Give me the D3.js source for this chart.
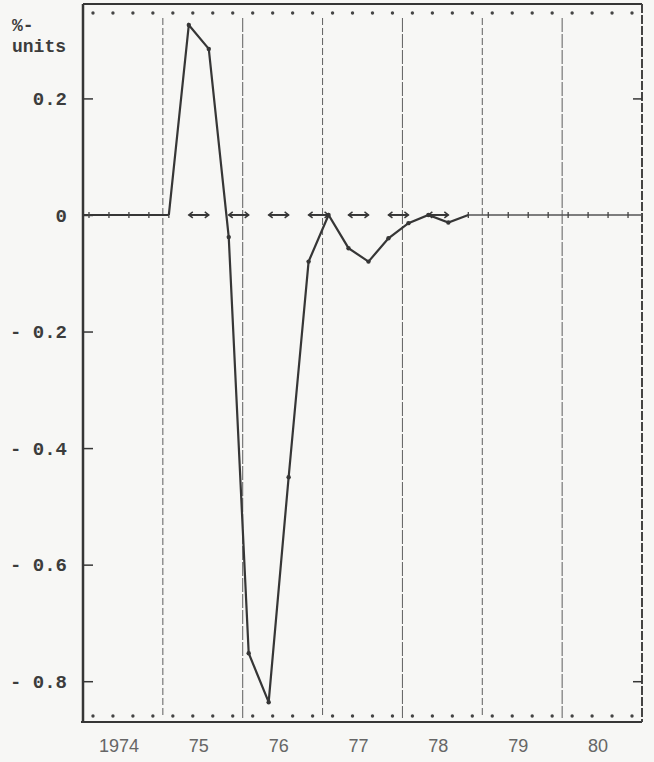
<!DOCTYPE html>
<html>
<head>
<meta charset="utf-8">
<script src="https://cdn.jsdelivr.net/npm/d3@7"></script>
<style>
  html, body { margin: 0; padding: 0; background: #f7f7f5; }
  svg { display: block; }
</style>
</head>
<body>
<div id="chart"></div>
<script>
  // quarterly deviation, %-units, 1974Q1 .. 1980Q4
  var firstYear = 1974;
  var yearLabels = ["1974", "75", "76", "77", "78", "79", "80"];
  var changeValues = [
    0, 0, 0, 0,
    0, 0.326, 0.285, -0.038,
    -0.752, -0.836, -0.45, -0.08,
    0, -0.057, -0.08, -0.04,
    -0.014, 0, -0.013, 0,
    0, 0, 0, 0,
    0, 0, 0, 0
  ];
  var baseValues = [
    0, 0, 0, 0, 0, 0, 0, 0, 0, 0, 0, 0, 0, 0,
    0, 0, 0, 0, 0, 0, 0, 0, 0, 0, 0, 0, 0, 0
  ];
  var yTicks = [0.2, 0, -0.2, -0.4, -0.6, -0.8];
  var yTickLabels = ["0.2", "0", "- 0.2", "- 0.4", "- 0.6", "- 0.8"];
  var rightTicks = [0.2, -0.8];
  var unitLabel = ["%-", "units"];

  var W = 654, H = 762;
  var plotLeft = 83, plotRight = 642, plotTop = 4, plotBottom = 722;
  var ink = "#363636";

  var x = d3.scaleLinear().domain([firstYear, firstYear + yearLabels.length]).range([plotLeft, plotRight]);
  var y = d3.scaleLinear().domain([-0.87, 0.362]).range([plotBottom, plotTop]);

  // each quarter is plotted a little after the quarter start
  function qx(i) { return x(firstYear + i / 4 + 0.075); }

  var svg = d3.select("#chart").append("svg")
    .attr("width", W).attr("height", H);

  svg.append("rect").attr("width", W).attr("height", H).attr("fill", "#f7f7f5");

  // year separators
  svg.append("g").selectAll("line")
    .data(d3.range(1, yearLabels.length))
    .enter().append("line")
      .attr("x1", function(d) { return x(firstYear + d); })
      .attr("x2", function(d) { return x(firstYear + d); })
      .attr("y1", plotTop + 14).attr("y2", plotBottom - 4)
      .attr("stroke", "#5e5e5e").attr("stroke-width", 1)
      .attr("stroke-dasharray", function(d) { return d % 2 ? "7,3" : "14,2"; });

  // dotted rows along top and bottom
  var quarterMids = d3.range(yearLabels.length * 4);
  [plotTop + 9, plotBottom - 6].forEach(function(yy) {
    svg.append("g").selectAll("circle")
      .data(quarterMids)
      .enter().append("circle")
        .attr("cx", function(i) { return x(firstYear + i / 4 + 0.125); })
        .attr("cy", yy).attr("r", 1.7)
        .attr("fill", "#444");
  });

  // frame
  svg.append("line").attr("x1", plotLeft).attr("x2", plotRight).attr("y1", plotTop).attr("y2", plotTop)
    .attr("stroke", ink).attr("stroke-width", 2);
  svg.append("line").attr("x1", plotLeft - 2).attr("x2", plotRight).attr("y1", plotBottom).attr("y2", plotBottom)
    .attr("stroke", ink).attr("stroke-width", 2);
  svg.append("line").attr("x1", plotRight).attr("x2", plotRight).attr("y1", plotTop).attr("y2", plotBottom)
    .attr("stroke", "#444").attr("stroke-width", 2).attr("stroke-dasharray", "9,2");

  // left axis, ticks pointing inward
  var yAxis = d3.axisLeft(y).tickValues(yTicks).tickSize(-10).tickPadding(16)
    .tickFormat(function(d, i) { return yTickLabels[i]; });
  var ga = svg.append("g").attr("transform", "translate(" + plotLeft + ",0)").call(yAxis);
  ga.select(".domain").attr("stroke", ink).attr("stroke-width", 2.5)
    .attr("d", "M0," + plotTop + "V" + plotBottom);
  ga.selectAll(".tick line").attr("stroke", ink).attr("stroke-width", 1.5);
  ga.selectAll(".tick text")
    .attr("fill", "#3c3c3c")
    .style("font-family", "'Liberation Mono', 'DejaVu Sans Mono', monospace")
    .style("font-size", "19px").style("font-weight", "bold");

  // right side ticks
  var rAxis = d3.axisRight(y).tickValues(rightTicks).tickSize(-9).tickFormat("");
  var gr = svg.append("g").attr("transform", "translate(" + plotRight + ",0)").call(rAxis);
  gr.select(".domain").remove();
  gr.selectAll(".tick line").attr("stroke", ink).attr("stroke-width", 1.5);

  // unit label
  svg.append("g").selectAll("text")
    .data(unitLabel)
    .enter().append("text")
      .attr("x", 12).attr("y", function(d, i) { return 31 + i * 21; })
      .attr("fill", "#3c3c3c")
      .style("font-family", "'Liberation Mono', 'DejaVu Sans Mono', monospace")
      .style("font-size", "18px").style("font-weight", "bold")
      .text(function(d) { return d; });

  // year labels
  svg.append("g").selectAll("text")
    .data(yearLabels)
    .enter().append("text")
      .attr("x", function(d, i) { return x(firstYear + i + 0.5) - 4; })
      .attr("y", 752)
      .attr("text-anchor", "middle")
      .attr("fill", "#666")
      .style("font-family", "'Liberation Sans', Arial, sans-serif")
      .style("font-size", "18px")
      .text(function(d) { return d; });

  // baseline: solid where the series sits on zero, paired dashes where it departs
  var firstDev = changeValues.findIndex(function(v) { return v !== 0; });
  var lastDev = changeValues.length - 1 - changeValues.slice().reverse().findIndex(function(v) { return v !== 0; });

  var baseLine = d3.line()
    .x(function(d) { return d.x; })
    .y(function(d) { return y(d.v); });

  var headPts = [{ x: plotLeft, v: 0 }];
  for (var i = 0; i < firstDev; i++) headPts.push({ x: qx(i), v: baseValues[i] });
  var tailPts = [];
  for (var j = lastDev + 1; j < baseValues.length; j++) tailPts.push({ x: qx(j), v: baseValues[j] });
  tailPts.push({ x: plotRight, v: 0 });

  svg.append("path").attr("d", baseLine(headPts))
    .attr("fill", "none").attr("stroke", ink).attr("stroke-width", 2);
  svg.append("path").attr("d", baseLine(tailPts))
    .attr("fill", "none").attr("stroke", "#555").attr("stroke-width", 1.5);

  // small ticks at quarter points on the solid parts
  var tickIdx = d3.range(0, firstDev).concat(d3.range(lastDev + 1, baseValues.length));
  svg.append("g").selectAll("line")
    .data(tickIdx)
    .enter().append("line")
      .attr("x1", function(i) { return qx(i); }).attr("x2", function(i) { return qx(i); })
      .attr("y1", function(i) { return y(baseValues[i]) - 3; })
      .attr("y2", function(i) { return y(baseValues[i]) + 3; })
      .attr("stroke", "#444").attr("stroke-width", 1.3);

  // paired segments with arrow ends
  var pairs = [];
  for (var p = firstDev; p < lastDev; p += 2) pairs.push(p);
  var gp = svg.append("g").attr("stroke", ink).attr("fill", "none").attr("stroke-width", 2);
  pairs.forEach(function(p) {
    var x0 = qx(p), x1 = qx(p + 1), yy = y(baseValues[p]);
    gp.append("line").attr("x1", x0).attr("x2", x1).attr("y1", yy).attr("y2", yy);
    gp.append("path").attr("stroke-width", 1.5)
      .attr("d", "M" + (x0 + 4) + "," + (yy - 3) + "L" + x0 + "," + yy + "L" + (x0 + 4) + "," + (yy + 3));
    gp.append("path").attr("stroke-width", 1.5)
      .attr("d", "M" + (x1 - 4) + "," + (yy - 3) + "L" + x1 + "," + yy + "L" + (x1 - 4) + "," + (yy + 3));
  });

  // main series
  var devIdx = d3.range(firstDev - 1, lastDev + 2);
  var line = d3.line()
    .x(function(i) { return qx(i); })
    .y(function(i) { return y(changeValues[i]); });
  svg.append("path")
    .attr("d", line(devIdx))
    .attr("fill", "none").attr("stroke", ink).attr("stroke-width", 2.2)
    .attr("stroke-linejoin", "miter");

  svg.append("g").selectAll("circle")
    .data(d3.range(firstDev, lastDev + 1))
    .enter().append("circle")
      .attr("cx", function(i) { return qx(i); })
      .attr("cy", function(i) { return y(changeValues[i]); })
      .attr("r", 2.2)
      .attr("fill", ink);
</script>
</body>
</html>
